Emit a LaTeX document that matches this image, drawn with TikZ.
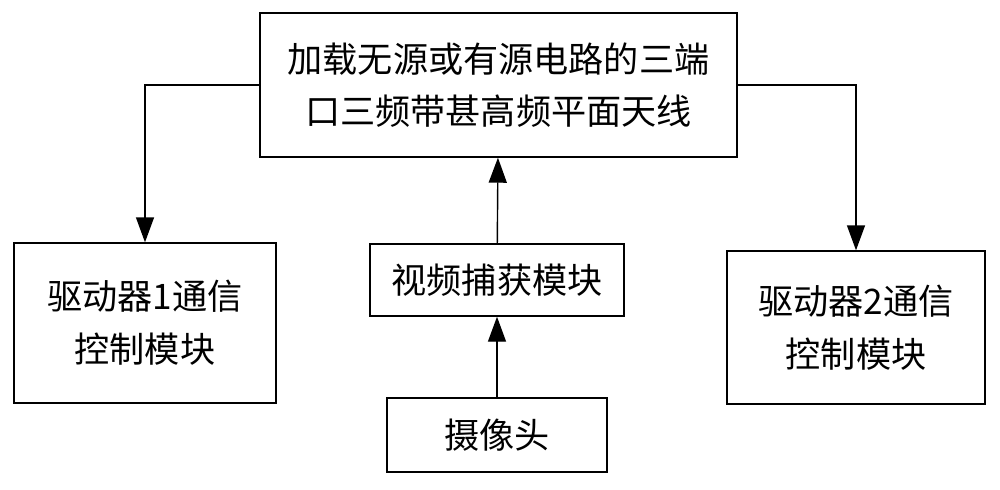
\documentclass[tikz,border=0pt]{standalone}
\usepackage{fontspec}
\newfontfamily\cjk{Noto Sans CJK SC}
\usetikzlibrary{arrows.meta}

\begin{document}
\begin{tikzpicture}[>={Triangle[length=0.5cm,width=0.36cm]},every node/.style={draw,thick,align=center,font=\cjk\fontsize{20}{30}\selectfont,inner sep=2pt}]
\useasboundingbox (0,0) rectangle (20,-9.78);

\node[minimum width=9.54cm,minimum height=2.88cm] (ant) at (9.97,-1.7) {加载无源或有源电路的三端\\口三频带甚高频平面天线};
\node[minimum width=5.24cm,minimum height=3.2cm] (drv1) at (2.9,-6.46) {驱动器1通信\\控制模块};
\node[minimum width=5.08cm,minimum height=1.44cm] (cap) at (9.94,-5.6) {视频捕获模块};
\node[minimum width=4.4cm,minimum height=1.48cm] (cam) at (9.94,-8.7) {摄像头};
\node[minimum width=5.16cm,minimum height=3.06cm] (drv2) at (17.12,-6.55) {驱动器2通信\\控制模块};

\draw[thick,->] (ant.west) -| (drv1.north);
\draw[thick,->] (ant.east) -| (drv2.north);
\draw[thick,->] (cap) -- (ant);
\draw[thick,->] (cam) -- (cap);

\end{tikzpicture}
\end{document}
